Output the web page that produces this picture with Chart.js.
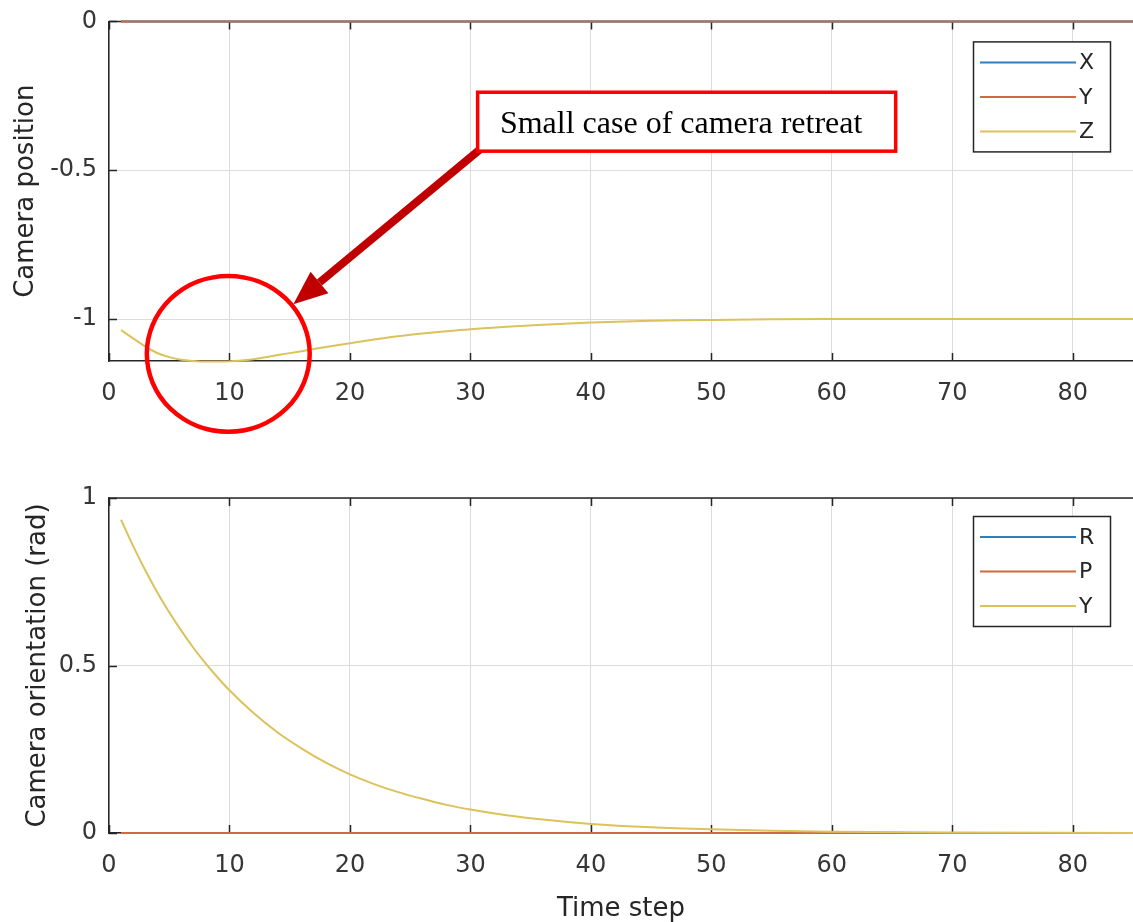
<!DOCTYPE html>
<html>
<head>
<meta charset="utf-8">
<title>Camera position / orientation</title>
<script src="https://cdn.jsdelivr.net/npm/chart.js@4.4.1/dist/chart.umd.min.js"></script>
<style>
  html,body{margin:0;padding:0;background:#fff;overflow:hidden}
  #wrap{position:relative;width:1133px;height:922px;overflow:hidden}
  canvas{position:absolute;left:0}
  #c-pos{top:-5px}
  #c-ori{top:440px}
</style>
</head>
<body>
<div id="wrap">
  <canvas id="c-pos" width="1133" height="445"></canvas>
  <canvas id="c-ori" width="1133" height="482"></canvas>
</div>
<script>
/* time step axis */
const xTicks=[0,10,20,30,40,50,60,70,80];
const X_MAX=85;

/* camera position (top) */
const posTicks=[-1,-0.5,0];
const zeroSteps=[1,85];
const posX=[0,0];
const posY=[0,0];
const posSteps=[1,2,3,4,5,6,7,8,9,10,11,12,14,16,18,20,22,24,26,28,30,33,36,40,45,50,55,60,70,85];
const posZ=[-1.037,-1.065,-1.092,-1.114,-1.128,-1.137,-1.141,-1.143,-1.143,-1.142,-1.139,-1.135,
            -1.121,-1.108,-1.094,-1.081,-1.069,-1.058,-1.049,-1.041,-1.034,-1.026,-1.019,-1.012,
            -1.006,-1.003,-1.001,-1.000,-1.000,-1.000];

/* camera orientation (bottom) */
const oriTicks=[0,0.5,1];
const oriR=[0,0];
const oriP=[0,0];
const oriSteps=[1,2,3,4,5,6,7,8,9,10,12,14,16,18,20,22,24,26,28,30,33,36,40,45,50,55,60,70,85];
const oriY=[0.935,0.857,0.785,0.719,0.659,0.604,0.553,0.507,0.465,0.426,0.358,0.300,0.252,0.210,
            0.175,0.146,0.122,0.102,0.084,0.070,0.053,0.040,0.027,0.017,0.011,0.007,0.004,0.0015,0.0003];

const C_BLUE='#2f7fbf', C_ORANGE='#cf6a3f', C_YELLOW='#dcc25a';
const AX='#262626', GRID='#dcdcdc', TXT='#363636';
const SANS='"DejaVu Sans", sans-serif';

const pts=(xs,ys)=>xs.map((x,i)=>({x,y:ys[i]}));

function series(label,xs,ys,color,order){
  return {label,data:pts(xs,ys),borderColor:color,backgroundColor:color,borderWidth:2,
    pointRadius:0,tension:0.4,cubicInterpolationMode:'monotone',clip:4,order};
}

// MATLAB-like box: top edge and inward tick marks on bottom/top/left
const boxPlugin={
  id:'box',
  beforeDatasetsDraw(ch){
    const {ctx,chartArea:a,scales:{x,y}}=ch;
    ctx.save(); ctx.strokeStyle=AX; ctx.lineWidth=1.5;
    ctx.beginPath(); ctx.moveTo(a.left,a.top); ctx.lineTo(a.right,a.top); ctx.stroke();
    ctx.beginPath();
    xTicks.forEach(v=>{
      const px=Math.round(x.getPixelForValue(v))+0.5;
      ctx.moveTo(px,a.bottom); ctx.lineTo(px,a.bottom-8);
      ctx.moveTo(px,a.top); ctx.lineTo(px,a.top+8);
    });
    y.ticks.forEach(t=>{
      const py=Math.round(y.getPixelForValue(t.value))+0.5;
      ctx.moveTo(a.left,py); ctx.lineTo(a.left+8,py);
    });
    ctx.stroke(); ctx.restore();
  }
};

// legend box in the upper right corner of the axes
const legendPlugin={
  id:'boxLegend',
  afterDatasetsDraw(ch,args,o){
    const {ctx,chartArea:a}=ch;
    const w=137,h=110,l=a.right-23-w,t=a.top+o.top;
    ctx.save();
    ctx.fillStyle='#fff'; ctx.fillRect(l,t,w,h);
    ctx.strokeStyle=AX; ctx.lineWidth=1.5; ctx.strokeRect(l+0.5,t+0.5,w,h);
    ch.data.datasets.forEach((d,i)=>{
      const yy=t+21+i*34.5;
      ctx.strokeStyle=d.borderColor; ctx.lineWidth=2;
      ctx.beginPath(); ctx.moveTo(l+7,yy); ctx.lineTo(l+103,yy); ctx.stroke();
      ctx.fillStyle=AX; ctx.font='22px '+SANS; ctx.textAlign='left'; ctx.textBaseline='middle';
      ctx.fillText(d.label,l+106,yy+1);
    });
    ctx.restore();
  }
};

// callout for the small retreat near the start (drawn in data units)
const noteCfg={
  ring:{x:9.9,y:-1.117,rx:6.76,ry:0.262},
  box:{x0:30.6,x1:65.3,y0:-0.238,y1:-0.436},
  arrow:{x0:30.8,y0:-0.43,x1:15.3,y1:-0.95},
  text:{x:32.45,y:-0.376,s:'Small case of camera retreat'}
};
const notePlugin={
  id:'note',
  afterDraw(ch){
    const {ctx,scales:{x,y}}=ch, n=noteCfg;
    const px=v=>x.getPixelForValue(v), py=v=>y.getPixelForValue(v);
    ctx.save();
    // ring
    ctx.strokeStyle='#ff0000'; ctx.lineWidth=4.5;
    ctx.beginPath();
    ctx.ellipse(px(n.ring.x),py(n.ring.y),px(n.ring.x+n.ring.rx)-px(n.ring.x),
      py(n.ring.y)-py(n.ring.y+n.ring.ry),0,0,Math.PI*2);
    ctx.stroke();
    // arrow
    const ax0=px(n.arrow.x0),ay0=py(n.arrow.y0),ax1=px(n.arrow.x1),ay1=py(n.arrow.y1);
    const ang=Math.atan2(ay1-ay0,ax1-ax0),hl=34,hw=14;
    const bx=ax1-hl*Math.cos(ang),by=ay1-hl*Math.sin(ang);
    ctx.strokeStyle='#c00000'; ctx.fillStyle='#c00000'; ctx.lineWidth=8;
    ctx.beginPath(); ctx.moveTo(ax0,ay0); ctx.lineTo(bx,by); ctx.stroke();
    ctx.beginPath(); ctx.moveTo(ax1,ay1);
    ctx.lineTo(bx+hw*Math.sin(ang),by-hw*Math.cos(ang));
    ctx.lineTo(bx-hw*Math.sin(ang),by+hw*Math.cos(ang));
    ctx.closePath(); ctx.fill();
    // text box
    const l=px(n.box.x0),r=px(n.box.x1),t=py(n.box.y0),b=py(n.box.y1);
    ctx.fillStyle='#fff'; ctx.fillRect(l,t,r-l,b-t);
    ctx.strokeStyle='#ff0000'; ctx.lineWidth=3.5; ctx.strokeRect(l,t,r-l,b-t);
    ctx.fillStyle='#000'; ctx.font='32px "Liberation Serif", "Times New Roman", serif';
    ctx.textAlign='left'; ctx.textBaseline='alphabetic';
    ctx.fillText(n.text.s,px(n.text.x),py(n.text.y));
    ctx.restore();
  }
};

function makeChart(id,cfg){
  const xTitle=cfg.xTitle?{display:true,text:cfg.xTitle,color:AX,font:{family:SANS,size:26},padding:{top:0,bottom:-3}}:{display:false};
  return new Chart(document.getElementById(id),{
    type:'line',
    data:{datasets:cfg.datasets},
    plugins:cfg.plugins,
    options:{
      responsive:false,animation:false,events:[],
      layout:{padding:{top:cfg.padTop,left:0,right:0,bottom:0}},
      plugins:{legend:{display:false},tooltip:{enabled:false},boxLegend:{top:cfg.legTop}},
      scales:{
        x:{type:'linear',min:0,max:X_MAX,
          afterBuildTicks:s=>{s.ticks=xTicks.map(v=>({value:v}));},
          afterFit:s=>{s.height=cfg.xH;},
          grid:{color:GRID,drawTicks:false,lineWidth:1},
          border:{display:true,color:AX,width:1.5},
          ticks:{padding:18,color:TXT,font:{family:SANS,size:24},maxRotation:0,callback:v=>String(v)},
          title:xTitle},
        y:{type:'linear',min:cfg.yMin,max:cfg.yMax,
          afterBuildTicks:s=>{s.ticks=cfg.yTicks.map(v=>({value:v}));},
          afterFit:s=>{s.width=109;},
          grid:{color:GRID,drawTicks:false,lineWidth:1},
          border:{display:true,color:AX,width:1.5},
          ticks:{padding:12,color:TXT,font:{family:SANS,size:24},callback:v=>String(v)},
          title:{display:true,text:cfg.yTitle,color:AX,font:{family:SANS,size:26},padding:{top:cfg.yTitlePad,bottom:0}}}
      }
    }
  });
}

makeChart('c-pos',{
  datasets:[
    series('X',zeroSteps,posX,C_BLUE,3),
    series('Y',zeroSteps,posY,C_ORANGE,2),
    series('Z',posSteps,posZ,C_YELLOW,1)
  ],
  plugins:[boxPlugin,legendPlugin,notePlugin],
  padTop:16,xH:79,legTop:20,
  yMin:-1.141,yMax:0,yTicks:posTicks,
  yTitle:'Camera position',yTitlePad:11
});

makeChart('c-ori',{
  datasets:[
    series('R',zeroSteps,oriR,C_BLUE,3),
    series('P',zeroSteps,oriP,C_ORANGE,2),
    series('Y',oriSteps,oriY,C_YELLOW,1)
  ],
  plugins:[boxPlugin,legendPlugin],
  padTop:58,xH:89,legTop:18,
  yMin:0,yMax:1,yTicks:oriTicks,
  yTitle:'Camera orientation (rad)',yTitlePad:23,
  xTitle:'Time step'
});
</script>
</body>
</html>
